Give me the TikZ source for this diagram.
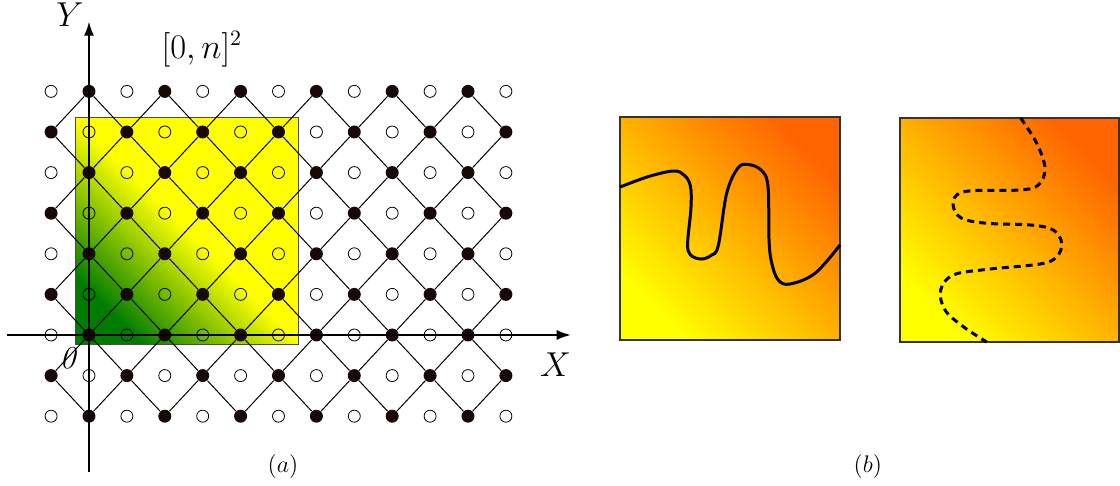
\documentclass[tikz,border=0pt]{standalone}
\usepackage{amsmath}
\usepackage{tikz}
\usetikzlibrary{arrows.meta}

\definecolor{dotc}{RGB}{25,8,8}
\definecolor{deepgreen}{RGB}{0,125,0}
\definecolor{hotorange}{RGB}{255,100,0}

\begin{document}
\begin{tikzpicture}[x=18.95pt, y=20.3pt, font=\fontsize{16}{19}\selectfont]
\tikzset{
  fdot/.style={circle, fill=dotc, inner sep=0pt, minimum size=6.5pt},
  odot/.style={circle, draw=black, line width=0.4pt, inner sep=0pt, minimum size=6pt},
  lnk/.style={line width=0.5pt},
  axis/.style={-{Latex[length=7pt,width=5pt]}, line width=0.8pt},
  sub/.style={font=\fontsize{13}{15}\selectfont},
  panel/.style={draw=black!80, line width=0.8pt, bottom color=yellow, top color=hotorange, shading angle=-45},
  curve/.style={line width=1.5pt},
}
\useasboundingbox (-2.348,-3.719) rectangle (27.203,8.251);

% the square [0,n]^2
\shadedraw[draw=black!70, line width=0.5pt, bottom color=deepgreen, top color=yellow, middle color=yellow, shading angle=-45]
  (-0.369,-0.222) rectangle (5.541,5.369);

% lattice points
\foreach \i in {0,...,12} {
  \foreach \j in {0,...,8} {
    \ifodd\numexpr\i+\j\relax
      \node[fdot] (p\i-\j) at (\i-1,\j-2) {};
    \else
      \node[odot] (p\i-\j) at (\i-1,\j-2) {};
    \fi
  }
}

% bonds
\foreach \i in {0,...,11} {
  \foreach \j in {0,...,8} {
    \pgfmathtruncatemacro\k{\i+1}
    \pgfmathtruncatemacro\up{\j+1}
    \pgfmathtruncatemacro\dn{\j-1}
    \ifodd\numexpr\i+\j\relax
      \ifnum\j<8 \draw[lnk] (p\i-\j) -- (p\k-\up);\fi
      \ifnum\j>0 \draw[lnk] (p\i-\j) -- (p\k-\dn);\fi
    \fi
  }
}

% axes
\coordinate (xs) at (-2.156,0);
\coordinate (xe) at (12.71,0);
\coordinate (ys) at (0,-3.367);
\coordinate (ye) at (0,7.717);
\draw[axis] (xs) -- (xe);
\draw[axis] (ys) -- (ye);
\node (xlab) at (12.31,-0.727) {$X$};
\node (ylab) at (-0.50,7.88) {$Y$};
\node (orig) at (-0.546,-0.574) {\textit{0}};
\node (sq) at (2.98,7.044) {$[0,n]^2$};
\node[sub] (capa) at (5.12,-3.23) {$(a)$};
\node[sub] (capb) at (20.55,-3.23) {$(b)$};

% panel (b), left
\begin{scope}[shift={(265.5pt,-2.5pt)}, x=5.5pt, y=5.5pt]
  \shadedraw[panel] (0,0) rectangle (20,20.27);
  \draw[curve] plot[smooth, tension=0.6] coordinates {(0,13.9) (2.57,14.85) (4.85,15.36) (5.82,15.0) (6.4,14.0) (6.45,12.0) (6.15,8.8) (6.4,7.75) (7.36,7.36) (8.3,7.7) (8.94,8.6) (9.7,13.34) (10.73,15.64) (11.66,15.95) (12.82,15.45) (13.45,14.0) (13.55,9.09) (13.8,6.97) (14.39,5.45) (15.45,5.09) (17.73,6.06) (20,8.64)};
\end{scope}

% panel (b), right
\begin{scope}[shift={(405.5pt,-3.5pt)}, x=5.5pt, y=5.5pt]
  \shadedraw[panel] (0,0) rectangle (19.9,20.36);
  \draw[curve, dash pattern=on 3.5pt off 2.5pt] plot[smooth, tension=0.6] coordinates {(10.97,20.36) (12.43,18.06) (13.18,15.79) (12.58,14.27) (10.91,13.82) (6.67,13.76) (5.15,13.36) (4.85,12.3) (5.61,11.25) (7.88,10.79) (11.82,10.64) (13.94,10.18) (14.7,8.97) (14.24,7.75) (12.73,7.09) (7.88,6.6) (4.85,6.09) (3.7,4.73) (4.09,2.91) (5.76,1.39) (7.88,0)};
\end{scope}
\end{tikzpicture}
\end{document}
